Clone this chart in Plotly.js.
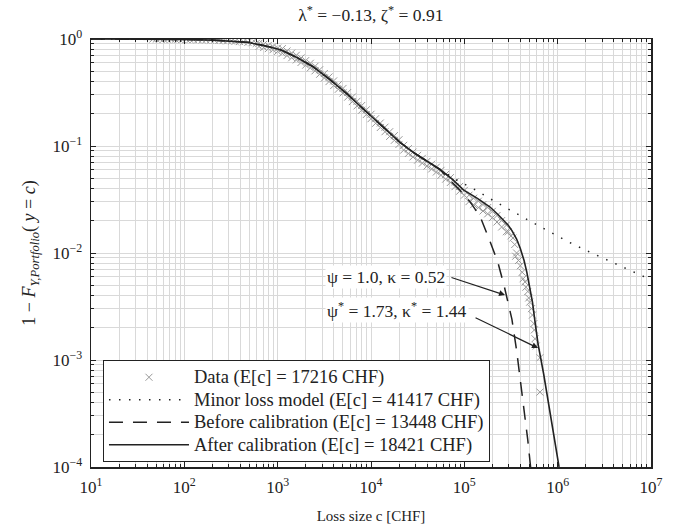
<!DOCTYPE html>
<html>
<head>
<meta charset="utf-8">
<script src="https://cdn.plot.ly/plotly-3.0.1.min.js"></script>
<style>
html,body{margin:0;padding:0;background:#fff;}
#chart{width:675px;height:532px;}
</style>
</head>
<body>
<div id="chart"></div>
<script>
// ---- Data ----
const dataX = [46,50,55,60,66,72,80,88,95,105,115,125,140,155,170,190,210,235,260,290,320,350,390,430,480,530,590,
  631,631,708,708,794,794,891,891,1000,1000,1122,1122,1259,1259,1413,1413,1585,1585,1778,1778,1995,1995,2239,2239,
  2512,2512,2818,2818,3162,3162,3548,3548,3981,3981,4467,4467,5012,5012,5623,5623,6310,6310,7079,7079,7943,7943,
  8913,8913,10000,10000,11220,11220,12590,12590,14130,14130,15850,15850,17780,17780,19950,19950,22390,22390,
  25120,25120,28180,28180,31620,31620,35480,35480,39810,39810,44670,44670,50120,50120,56230,56230,63100,63100,
  70790,70790,79430,79430,89130,89130,100000,100000,112200,112200,125900,125900,141300,141300,158500,158500,
  177800,177800,199500,199500,223900,223900,251200,251200,281800,281800,
  295100,316200,331100,346700,354800,363100,380200,398100,416900,426600,446700,457100,478600,489800,501200,
  524800,537000,555900,562300,571500,588800,645700,645700];
const dataY = [0.999,0.998,0.999,0.997,0.998,0.996,0.995,0.996,0.993,0.992,0.99,0.99,0.987,0.985,0.98,0.978,0.975,0.97,0.966,0.962,0.958,0.952,0.946,0.94,0.93,0.922,0.91,
  0.912,0.851,0.891,0.832,0.871,0.813,0.851,0.794,0.822,0.767,0.813,0.736,0.773,0.700,0.738,0.668,0.705,0.638,0.665,0.603,0.628,0.569,0.593,0.537,
  0.556,0.504,0.516,0.468,0.476,0.432,0.442,0.400,0.406,0.367,0.374,0.339,0.345,0.313,0.316,0.286,0.287,0.260,0.262,0.237,0.239,0.216,
  0.218,0.197,0.198,0.180,0.180,0.163,0.164,0.149,0.150,0.136,0.136,0.123,0.125,0.113,0.1145,0.1035,0.1015,0.0915,
  0.0944,0.0851,0.0877,0.0791,0.0818,0.0738,0.0767,0.0692,0.0719,0.0649,0.0676,0.0610,0.0634,0.0571,0.0592,0.0533,0.0543,0.0490,
  0.0506,0.0456,0.0462,0.0417,0.0419,0.0378,0.0385,0.0347,0.0347,0.0302,0.0325,0.0283,0.0305,0.0266,0.0284,0.0247,
  0.0266,0.0232,0.0245,0.0214,0.0224,0.0195,0.0201,0.0175,0.0182,0.0158,
  0.01585,0.01445,0.0138,0.0120,0.00933,0.0100,0.00851,0.00759,0.00661,0.00575,0.00537,0.00479,0.00437,0.00380,0.00347,
  0.00302,0.00263,0.00219,0.00191,0.00158,0.00135,0.00105,0.000501];

const afterX = [10,32,100,200,316,468,708,1072,1585,2399,3631,5495,7943,10720,14790,20420,29510,42660,54950,74130,97720,
  138000,188400,229100,259400,295100,323600,363100,398100,436500,467700,501200,537000,575400,616600,707900,831800,1000000,1035000];
const afterY = [1.0,0.998,0.991,0.977,0.96,0.933,0.871,0.794,0.676,0.55,0.417,0.309,0.229,0.181,0.140,0.108,0.0851,0.0692,0.0603,0.049,0.0389,
  0.0324,0.0269,0.0229,0.0204,0.0182,0.0162,0.0135,0.011,0.0085,0.0066,0.0049,0.00347,0.00219,0.00141,0.00074,0.00032,0.000117,0.0001];

const beforeX = [10,32,100,200,316,468,708,1072,1585,2399,3631,5495,7943,10720,14790,20420,29510,42660,54950,
  64570,75860,89130,114800,147900,186200,229100,269200,295100,323600,363100,426600,478600,512900];
const beforeY = [1.0,0.998,0.991,0.977,0.96,0.933,0.871,0.794,0.676,0.55,0.417,0.309,0.229,0.181,0.140,0.108,0.0851,0.0692,0.0603,
  0.0513,0.0447,0.0389,0.0302,0.0219,0.0132,0.00813,0.00479,0.00339,0.0024,0.00123,0.000427,0.000178,0.0001];

const minorX = [10,32,100,200,316,468,708,1072,1585,2399,3631,5495,7943,10720,14790,20420,29510,42660,
  54950,64570,83180,107200,138000,204200,309000,478600,776200,1259000,1950000,3090000,5012000,7943000,10000000];
const minorY = [1.0,0.998,0.991,0.977,0.96,0.933,0.871,0.794,0.676,0.55,0.417,0.309,0.229,0.181,0.140,0.108,0.0851,0.0692,
  0.061,0.055,0.0479,0.0427,0.038,0.0309,0.0251,0.0204,0.0162,0.0129,0.0107,0.00891,0.00741,0.00617,0.00562];

const xTickVals = [1e1, 1e2, 1e3, 1e4, 1e5, 1e6, 1e7];
const xTickText = ['10<sup>1</sup>','10<sup>2</sup>','10<sup>3</sup>','10<sup>4</sup>','10<sup>5</sup>','10<sup>6</sup>','10<sup>7</sup>'];
const yTickVals = [1e-4, 1e-3, 1e-2, 1e-1, 1];
const yTickText = ['10<sup>−4</sup>','10<sup>−3</sup>','10<sup>−2</sup>','10<sup>−1</sup>','10<sup>0</sup>'];

const legendNames = [
  'Data (E[c] = 17216 CHF)',
  'Minor loss model (E[c] = 41417 CHF)',
  'Before calibration (E[c] = 13448 CHF)',
  'After calibration (E[c] = 18421 CHF)'
];
const titleText = 'λ<sup>*</sup> = −0.13, ζ<sup>*</sup> = 0.91';
const xTitle = 'Loss size c [CHF]';
const yTitle = '1 − <i>F</i><sub><i>Y,Portfolio</i></sub>( <i>y</i> = <i>c</i>)';
const note1 = 'ψ = 1.0, κ = 0.52';
const note2 = 'ψ<sup>*</sup> = 1.73, κ<sup>*</sup> = 1.44';

const FONT = 'Liberation Serif, Times New Roman, serif';
const big = s => '<span style="font-size:18.5px">' + s + '</span>';

const traces = [
  {x: dataX, y: dataY, type: 'scatter', mode: 'markers', name: big(legendNames[0]),
   marker: {symbol: 'x-thin', size: 7, color: '#999', line: {width: 1, color: '#999'}}},
  {x: minorX, y: minorY, type: 'scatter', mode: 'lines', name: big(legendNames[1]),
   line: {color: '#222', width: 1.5, dash: '1.5px,8.5px'}},
  {x: beforeX, y: beforeY, type: 'scatter', mode: 'lines', name: big(legendNames[2]),
   line: {color: '#222', width: 1.5, dash: '14px,10px'}},
  {x: afterX, y: afterY, type: 'scatter', mode: 'lines', name: big(legendNames[3]),
   line: {color: '#222', width: 1.6}}
];

const axisCommon = {
  type: 'log', tickmode: 'array', exponentformat: 'power',
  ticks: 'inside', ticklen: 5, tickwidth: 1, tickcolor: '#222',
  showline: true, linecolor: '#222', linewidth: 1.5, mirror: 'ticks',
  showgrid: true, gridcolor: '#d9d9d9', gridwidth: 1, zeroline: false,
  tickfont: {family: FONT, size: 17, color: '#222'},
  minor: {dtick: 'D1', ticks: 'inside', ticklen: 3, tickcolor: '#222', showgrid: true, gridcolor: '#d9d9d9', gridwidth: 1}
};

const layout = {
  width: 675, height: 532,
  margin: {l: 91, r: 24, t: 39, b: 65},
  paper_bgcolor: '#fff', plot_bgcolor: '#fff',
  font: {family: FONT, size: 15, color: '#222'},
  title: {text: titleText, x: 0.5495, xanchor: 'center', y: 0.972, yanchor: 'middle',
          font: {family: FONT, size: 17.5, color: '#222'}},
  xaxis: Object.assign({}, axisCommon, {range: [1, 7], tickvals: xTickVals, ticktext: xTickText, ticklabelstandoff: 4,
          title: {text: xTitle, standoff: 14, font: {family: FONT, size: 15, color: '#222'}}}),
  yaxis: Object.assign({}, axisCommon, {range: [-4, 0], tickvals: yTickVals, ticktext: yTickText, ticklabelstandoff: 4,
          title: {text: yTitle, standoff: 12, font: {family: FONT, size: 18, color: '#222'}}}),
  showlegend: true,
  legend: {x: 0.0214, y: 0.25, xanchor: 'left', yanchor: 'top', bgcolor: '#fff',
           bordercolor: '#222', borderwidth: 1, font: {family: FONT, size: 15, color: '#222'},
           itemwidth: 80, tracegroupgap: 0},
  annotations: [
    {x: 4.16, y: -2.224, xref: 'x', yref: 'y', text: note1, showarrow: false, bgcolor: '#fff',
     font: {family: FONT, size: 17.5, color: '#222'}},
    {x: 4.28, y: -2.533, xref: 'x', yref: 'y', text: note2, showarrow: false, bgcolor: '#fff',
     font: {family: FONT, size: 17.5, color: '#222'}},
    {x: 5.436, y: -2.393, xref: 'x', yref: 'y', ax: 4.846, ay: -2.224, axref: 'x', ayref: 'y',
     text: '', showarrow: true, arrowhead: 2, arrowsize: 1, arrowwidth: 1.2, arrowcolor: '#222', standoff: 0},
    {x: 5.789, y: -2.888, xref: 'x', yref: 'y', ax: 5.104, ay: -2.598, axref: 'x', ayref: 'y',
     text: '', showarrow: true, arrowhead: 2, arrowsize: 1, arrowwidth: 1.2, arrowcolor: '#222', standoff: 0}
  ]
};

Plotly.newPlot('chart', traces, layout, {displayModeBar: false, staticPlot: true});
</script>
</body>
</html>
